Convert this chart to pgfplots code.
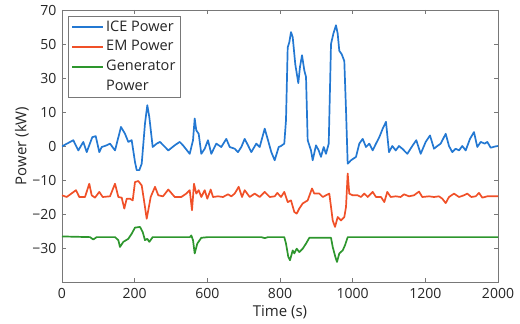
\documentclass[border=0pt]{standalone}
\usepackage{fontspec}
\setmainfont{Open Sans}
\usepackage{pgfplots}
\pgfplotsset{compat=1.18}
\definecolor{iceblue}{RGB}{35,120,210}
\definecolor{emred}{RGB}{240,80,40}
\definecolor{gengreen}{RGB}{45,150,45}
\definecolor{axgray}{RGB}{120,120,120}
\pgfplotsset{every axis plot/.append style={line width=1.7pt, line join=round}}
\begin{document}
\begin{tikzpicture}[line width=1.7pt]
\begin{axis}[
  scale only axis, width=436pt, height=272pt,
  xmin=0, xmax=1200, ymin=-40, ymax=40,
  xtick={0,200,400,600,800,1000,1200},
  xticklabels={0,200,600,800,1000,1200,2000},
  ytick={-30,-20,-10,0,10,20,30,40},
  yticklabels={−30,−20,−10,0,10,30,50,70},
  y filter/.expression={y>10 ? 10+(y-10)/2 : y},
  tick align=inside, xtick pos=both, ytick pos=both,
  major tick length=4pt,
  axis line style={axgray, line width=0.8pt},
  tick style={axgray, line width=0.7pt},
  ticklabel style={font=\fontsize{14}{17}\selectfont, text=black!85},
  xticklabel style={anchor=base, yshift=-17pt},
  yticklabel style={xshift=-2pt},
  xlabel={Time (s)}, ylabel={Power (kW)},
  label style={font=\fontsize{15}{18}\selectfont, text=black!85},
  xlabel style={at={(axis description cs:0.5,0)}, anchor=base, yshift=-35pt},
  ylabel style={at={(axis description cs:-0.092,0.5)}, anchor=center},
  legend style={at={(axis description cs:0,1)}, anchor=north west, xshift=6pt, yshift=-6pt,
    draw=axgray, font=\fontsize{14.5}{17}\selectfont, text=black!85,
    row sep=3.7pt, inner xsep=3pt, inner ysep=3pt,
    nodes={text height=11pt, text depth=3pt, inner ysep=1pt}},
  legend cell align=left,
  legend image code/.code={\draw[line width=2pt, #1, line width=2pt] (0pt,0pt) -- (31pt,0pt);},
]
\addplot[draw=iceblue] coordinates {
(0,-0.1) (31.1,1.7) (44.9,-1.3) (58.6,1.2) (68.0,-1.8) (83.4,2.6) (92.8,2.9) (102.7,-1.8)
(109.3,-0.3) (123.0,0.2) (132.1,0.7) (145.9,-1.3) (162.4,5.6) (173.4,3.6) (182.5,1.2) (191.8,1.7)
(200.9,-4.7) (205.6,-7.1) (212.8,-7.1) (219.4,-5.2) (228.4,6.6) (234.8,14) (240.3,8.5) (249.6,-0.3)
(260.6,0.7) (269.7,1.2) (283.5,-0.3) (292.6,-1.3) (310.2,0.2) (323.9,1.2) (333.0,0.2) (351.5,-2.3)
(360.6,1.7) (365.2,8.1) (369.6,4.6) (376.2,3.6) (383.4,-2.3) (392.8,-0.8) (401.8,1.7) (410.9,-2.3)
(424.7,0.7) (438.4,-0.3) (452.2,2.1) (461.6,-0.3) (475.3,-0.8) (484.4,-1.8) (493.5,-0.3) (502.8,2.1)
(511.9,0.2) (521.0,-1.8) (534.8,0.7) (544.1,-0.3) (557.9,5.1) (567.0,1.7) (576.1,-1.8) (585.4,-4.2)
(596.4,-0.3) (602.8,0) (611.8,0.7) (616.5,7.6) (621.2,48) (625.6,51) (630.3,57) (635.0,54)
(642.1,38) (650.4,27) (655.0,36.5) (660.6,43.4) (666.9,34.5) (671.6,30.6) (676.2,1.7) (685.3,-1.3)
(690.0,-4.2) (699.1,0.2) (706.5,-1.3) (712.8,-3.2) (720.3,-0.3) (726.6,-2.3) (734.1,0.7) (740.4,50)
(746.8,56) (754.1,61) (758.8,56) (763.2,46) (769.8,44) (777.0,40) (781.7,11) (786.3,-5.2)
(795.4,-4.2) (809.2,-3.2) (818.3,0.7) (827.6,2.1) (836.7,-0.3) (845.8,0.7) (855.1,-1.3) (864.2,0.7)
(873.3,2.6) (882.7,5.1) (891.7,7.1) (900.0,-1.8) (909.1,0) (918.5,-1.3) (927.5,0) (936.6,-0.8)
(950.4,-2.3) (964.1,0) (975.1,1.7) (987.2,-2.3) (1001.0,1.2) (1012.8,3.1) (1023.9,-0.8) (1033.0,0)
(1042.3,0.7) (1056.1,3.6) (1065.1,0) (1074.2,-1.8) (1083.6,-0.8) (1092.7,-1.3) (1101.7,0) (1111.1,-1.3)
(1122.9,2.1) (1133.9,4.1) (1143.0,-0.3) (1152.4,1.2) (1163.4,0.7) (1170.5,1.2) (1179.9,-0.5) (1193.6,-0.1)
(1200,0)
};
\addlegendentry{ICE Power}
\addplot[draw=emred] coordinates {
(0,-14.5) (12.9,-15) (38.5,-13.0) (47.6,-15) (63.3,-15) (75.1,-11.1) (81.7,-14.5) (90.8,-15.2)
(102.7,-13.5) (112.0,-15) (132.1,-14.8) (145.9,-11.1) (155.0,-15) (164.3,-15.2) (171.5,-18.4) (178.1,-15.5)
(187.2,-15.5) (194.6,-16) (200.9,-10.6) (210.0,-10.3) (219.4,-11.6) (225.7,-16) (233.1,-21.4) (237.5,-18.9)
(244.1,-15) (256.0,-12) (265.0,-14.5) (278,-14.8) (292.6,-12.8) (310.2,-15) (328.3,-15) (342.1,-14)
(351.5,-13) (357.8,-18.9) (363.3,-11.1) (369.6,-14) (376.2,-13) (383.4,-15) (392.8,-13) (399.9,-15.5)
(409.3,-12.8) (415.6,-15) (429.4,-14.8) (443.1,-15) (456.9,-14.2) (466.0,-14.8) (475.3,-14) (486.3,-12)
(495.4,-15) (502.8,-13) (516.6,-15) (530.3,-14) (544.1,-15) (557.9,-13.5) (571.7,-15) (585.4,-14.8)
(592.6,-13.8) (602.8,-15) (611.8,-13.5) (621.2,-16.5) (630.3,-16) (639.4,-19.4) (646.0,-19.9) (653.1,-18.4)
(662.5,-16.9) (676.2,-16) (688.1,-12.5) (694.4,-14) (708.2,-14) (717.6,-15) (726.6,-14.5) (735.7,-14)
(740.4,-17.9) (745.1,-21.9) (751.4,-23.8) (758.8,-20.9) (767.9,-21.9) (777.0,-20.9) (781.7,-17.9) (786.3,-8.1)
(790.7,-14) (800.1,-14.5) (813.8,-14.5) (822.9,-15) (832.0,-14) (841.4,-15) (855.1,-13.5) (864.2,-15)
(878.0,-15) (887.1,-16.5) (895.3,-13.5) (904.7,-15) (918.5,-14.8) (932.2,-15) (941.3,-14.2) (955.0,-14.8)
(968.8,-14.5) (982.6,-13.4) (991.6,-15) (1010.1,-14.8) (1023.9,-15) (1037.6,-14.8) (1046.7,-15.5) (1056.1,-16.8)
(1065.1,-15) (1078.9,-14) (1092.7,-15) (1106.4,-14.5) (1115.5,-14) (1126.5,-15) (1138.6,-14.8) (1147.7,-13.8)
(1156.8,-15.2) (1170.5,-14.8) (1200,-14.8)
};
\addlegendentry{EM Power}
\addplot[draw=gengreen] coordinates {
(0,-26.6) (77.1,-26.8) (86.1,-27.5) (95.5,-26.8) (145.9,-26.8) (155.0,-27.7) (159.6,-29.7) (168.7,-28.2)
(182.5,-27.3) (191.8,-25.8) (200.9,-24) (214.7,-23.8) (222.1,-25.3) (228.4,-27.7) (234.8,-27.3) (240.3,-28.2)
(249.6,-26.8) (352.0,-26.8) (355.9,-26.3) (360.6,-27.7) (365.2,-31.6) (372.4,-28.7) (383.4,-27) (401.8,-26.8) (548.5,-26.8)
(557.9,-27.1) (567.0,-26.8) (611.8,-26.8) (616.5,-28.7) (622.8,-32.6) (627.5,-33.6) (635.0,-30.7) (639.4,-31.6)
(646.0,-30.2) (653.1,-31.2) (662.5,-30.2) (671.6,-28.7) (680.7,-27) (740.4,-27) (745.1,-29.7) (752.3,-32.6)
(756.9,-34.1) (763.2,-31.6) (772.6,-30.7) (778.9,-29.2) (786.3,-26.8) (1200,-26.8)
};
\addlegendentry{Generator}
\addlegendimage{empty legend}
\addlegendentry{Power}
\end{axis}
\path (-62pt,-42pt) rectangle (458pt,282pt);
\end{tikzpicture}
\end{document}
